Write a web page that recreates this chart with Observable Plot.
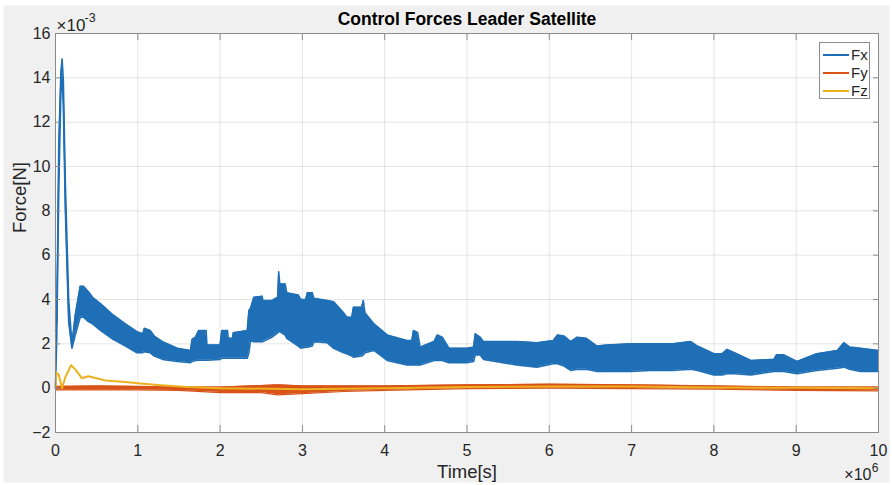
<!DOCTYPE html>
<html>
<head>
<meta charset="utf-8">
<script src="https://cdn.jsdelivr.net/npm/d3@7"></script>
<script src="https://cdn.jsdelivr.net/npm/@observablehq/plot@0.6"></script>
<style>
  body { margin: 0; background: #fff; font-family: "Liberation Sans", Arial, sans-serif; }
  #wrap { position: relative; width: 892px; height: 485px; }
  .legend { position: absolute; left: 819px; top: 42px; width: 49px; height: 55px;
            border: 1px solid #8c8c8c; background: #fff; font-size: 15px; color: #262626; }
  .legend .row { position: absolute; left: 0; height: 18px; width: 49px; }
  .legend .sw { position: absolute; left: 3px; top: 8px; width: 26px; height: 2px; }
  .legend .lb { position: absolute; left: 31px; top: 0px; line-height: 17px; }
</style>
</head>
<body>
<div id="wrap"></div>
<script>
// Time axis in units of 1e6 s, force in units of 1e-3 N (as the axis multipliers show)
const xTicks = [0, 1, 2, 3, 4, 5, 6, 7, 8, 9, 10];
const yTicks = [-2, 0, 2, 4, 6, 8, 10, 12, 14, 16];

const seriesNames = ["Fx", "Fy", "Fz"];
const seriesColors = ["#1f6fb6", "#d95319", "#edb120"];

// Fx: oscillation band (lower / upper envelope)
const fxTime = [0.000, 0.015, 0.040, 0.065, 0.080, 0.095, 0.120, 0.160, 0.200, 0.240,
  0.300, 0.340, 0.400, 0.450, 0.550, 0.700, 0.850, 0.990, 1.060, 1.080,
  1.150, 1.200, 1.300, 1.480, 1.640, 1.660, 1.700, 1.740, 1.830, 1.840,
  2.000, 2.020, 2.090, 2.100, 2.150, 2.160, 2.330, 2.350, 2.370, 2.410,
  2.510, 2.520, 2.630, 2.700, 2.712, 2.725, 2.790, 2.810, 2.950, 2.980,
  3.040, 3.060, 3.120, 3.140, 3.300, 3.380, 3.500, 3.540, 3.600, 3.620,
  3.720, 3.740, 3.760, 3.870, 4.030, 4.270, 4.330, 4.350, 4.400, 4.430,
  4.600, 4.640, 4.700, 4.780, 5.000, 5.080, 5.100, 5.160, 5.200, 5.600,
  5.850, 6.050, 6.100, 6.180, 6.260, 6.340, 6.450, 6.580, 6.700, 6.990,
  7.230, 7.500, 7.720, 7.800, 8.000, 8.100, 8.160, 8.250, 8.450, 8.730,
  8.760, 8.850, 9.010, 9.250, 9.500, 9.580, 9.650, 9.780, 10.000];
const fxLow = [0.0, 2.3, 9.0, 13.3, 14.0, 12.8, 8.0, 3.0, 1.8, 2.4,
  3.2, 3.2, 3.0, 2.9, 2.6, 2.2, 1.9, 1.6, 1.6, 1.65,
  1.6, 1.45, 1.3, 1.2, 1.15, 1.2, 1.25, 1.26, 1.26, 1.26,
  1.3, 1.35, 1.35, 1.35, 1.35, 1.35, 1.35, 1.6, 2.15, 2.1,
  2.1, 2.1, 2.3, 2.5, 2.55, 2.55, 2.4, 2.25, 1.9, 1.8,
  1.85, 1.85, 1.9, 2.1, 2.05, 1.8, 1.6, 1.55, 1.45, 1.4,
  1.45, 1.5, 1.6, 1.7, 1.25, 1.05, 1.05, 1.05, 1.05, 1.05,
  1.25, 1.25, 1.25, 1.15, 1.15, 1.2, 1.5, 1.5, 1.3, 1.05,
  0.95, 1.1, 1.1, 1.0, 0.8, 0.85, 0.85, 0.75, 0.75, 0.75,
  0.8, 0.8, 0.85, 0.8, 0.6, 0.6, 0.65, 0.65, 0.6, 0.75,
  0.75, 0.75, 0.65, 0.8, 0.9, 0.95, 0.85, 0.75, 0.75];
const fxHigh = [2.6, 2.9, 11.0, 14.2, 14.85, 13.9, 9.2, 4.0, 2.0, 3.3,
  4.6, 4.6, 4.35, 4.1, 3.8, 3.3, 2.9, 2.55, 2.45, 2.7,
  2.6, 2.35, 2.1, 1.8, 1.7, 2.2, 2.3, 2.6, 2.6, 1.95,
  1.95, 2.6, 2.6, 2.25, 2.25, 2.5, 2.6, 3.5, 3.6, 4.1,
  4.15, 3.95, 3.95, 4.1, 5.25, 4.7, 4.7, 4.3, 4.2, 4.0,
  4.0, 4.3, 4.3, 4.05, 3.95, 3.9, 3.4, 3.2, 3.2, 3.65,
  3.65, 3.95, 3.4, 2.9, 2.4, 2.15, 2.15, 2.6, 2.5, 1.85,
  2.1, 2.4, 2.3, 1.8, 1.8, 1.85, 2.45, 2.3, 2.1, 2.1,
  2.05, 2.15, 2.4, 2.35, 2.1, 2.3, 2.25, 1.9, 1.95, 2.0,
  2.0, 2.0, 2.1, 1.9, 1.55, 1.55, 1.75, 1.6, 1.25, 1.3,
  1.5, 1.5, 1.2, 1.55, 1.7, 2.05, 1.85, 1.8, 1.7];

// Fy: thin band around zero
const fyTime = [0, 0.5, 1.0, 1.5, 2.0, 2.5, 2.7, 3.0, 3.5, 4.0, 5.0, 6.0, 7.0, 8.0, 9.0, 10.0];
const fyLow  = [-0.08, -0.08, -0.08, -0.1, -0.2, -0.2, -0.3, -0.25, -0.15, -0.1, -0.02, 0.0, -0.02, -0.05, -0.1, -0.12];
const fyHigh = [0.08, 0.1, 0.08, 0.05, 0.05, 0.12, 0.15, 0.1, 0.1, 0.1, 0.15, 0.18, 0.15, 0.1, 0.05, 0.05];

// Fz: single trace
const fzTime  = [0, 0.01, 0.04, 0.08, 0.12, 0.19, 0.25, 0.32, 0.40, 0.50, 0.60, 0.85, 1.0, 1.28, 1.6, 2.0, 3.0, 4.0, 5.0, 6.0, 7.0, 8.0, 9.0, 10.0];
const fzValue = [0.05, 0.7, 0.6, 0.0, 0.5, 1.04, 0.8, 0.45, 0.54, 0.45, 0.35, 0.28, 0.22, 0.13, 0.05, 0.0, -0.05, 0.0, 0.05, 0.08, 0.07, 0.03, 0.02, 0.0];

const fx = fxTime.map((t, i) => ({t, lo: fxLow[i], hi: fxHigh[i]}));
const fy = fyTime.map((t, i) => ({t, lo: fyLow[i], hi: fyHigh[i]}));
const fz = fzTime.map((t, i) => ({t, v: fzValue[i]}));

const W = 892, H = 485;
const mL = 55, mR = 14, mT = 33, mB = 53;
const frameW = W - mL - mR, frameH = H - mT - mB;
const axisGray = "#8c8c8c", textCol = "#262626";

const chart = Plot.plot({
  width: W, height: H,
  marginLeft: mL, marginRight: mR, marginTop: mT, marginBottom: mB,
  style: {fontFamily: "'Liberation Sans', Arial, sans-serif", fontSize: "16px", color: textCol, background: "transparent"},
  x: {domain: [0, 10]},
  y: {domain: [-2, 16]},
  marks: [
    // figure panel and axes background
    Plot.frame({fill: "#f0f0f0", insetTop: -28, insetLeft: -52, insetRight: -11, insetBottom: -50}),
    Plot.frame({fill: "white"}),
    Plot.gridX(xTicks, {stroke: "#000", strokeOpacity: 0.1}),
    Plot.gridY(yTicks, {stroke: "#000", strokeOpacity: 0.1}),
    // Fx band
    Plot.areaY(fx, {x: "t", y1: "lo", y2: "hi", fill: seriesColors[0]}),
    Plot.line(fx, {x: "t", y: "hi", stroke: seriesColors[0], strokeWidth: 1.6}),
    Plot.line(fx, {x: "t", y: "lo", stroke: seriesColors[0], strokeWidth: 1.6}),
    // Fy band
    Plot.areaY(fy, {x: "t", y1: "lo", y2: "hi", fill: seriesColors[1]}),
    Plot.line(fy, {x: "t", y: "hi", stroke: seriesColors[1], strokeWidth: 1.2}),
    Plot.line(fy, {x: "t", y: "lo", stroke: seriesColors[1], strokeWidth: 1.2}),
    // Fz trace
    Plot.line(fz, {x: "t", y: "v", stroke: seriesColors[2], strokeWidth: 2}),
    // box and inward ticks
    Plot.frame({stroke: axisGray}),
    Plot.tickX(xTicks, {x: d => d, stroke: axisGray, insetTop: frameH - 7}),
    Plot.tickX(xTicks, {x: d => d, stroke: axisGray, insetBottom: frameH - 7}),
    Plot.tickY(yTicks, {y: d => d, stroke: axisGray, insetRight: frameW - 5}),
    Plot.tickY(yTicks, {y: d => d, stroke: axisGray, insetLeft: frameW - 5}),
    Plot.axisX(xTicks, {anchor: "bottom", tickSize: 0, tickPadding: 12, label: null, fill: textCol, fontSize: 16}),
    Plot.axisY(yTicks, {anchor: "left", tickSize: 0, tickPadding: 5, label: null, fill: textCol, fontSize: 16}),
    // axis titles
    Plot.text(["Time[s]"], {frameAnchor: "bottom", dy: 40, lineAnchor: "middle", fontSize: 18.5, fill: textCol}),
    Plot.text(["Force[N]"], {frameAnchor: "left", dx: -35, rotate: -90, lineAnchor: "middle", fontSize: 18.5, fill: textCol}),
    Plot.text(["Control Forces Leader Satellite"], {frameAnchor: "top", dy: -14, lineAnchor: "middle", fontSize: 17.5, fontWeight: "bold", fill: "#000"}),
    // axis multipliers
    Plot.text(["×10"], {frameAnchor: "top-left", textAnchor: "start", lineAnchor: "middle", dx: 1, dy: -8, fontSize: 17, fill: textCol}),
    Plot.text(["-3"], {frameAnchor: "top-left", textAnchor: "start", lineAnchor: "middle", dx: 29, dy: -16, fontSize: 12.5, fill: textCol}),
    Plot.text(["×10"], {frameAnchor: "bottom-right", textAnchor: "end", lineAnchor: "middle", dx: -7, dy: 42, fontSize: 16, fill: textCol}),
    Plot.text(["6"], {frameAnchor: "bottom-right", textAnchor: "end", lineAnchor: "middle", dx: 0, dy: 36, fontSize: 12, fill: textCol})
  ]
});

const wrap = document.getElementById("wrap");
wrap.appendChild(chart);

// line-swatch legend in the upper right corner of the axes
const legend = document.createElement("div");
legend.className = "legend";
seriesNames.forEach((name, i) => {
  const row = document.createElement("div");
  row.className = "row";
  row.style.top = (3 + i * 18) + "px";
  const sw = document.createElement("span");
  sw.className = "sw";
  sw.style.background = seriesColors[i];
  const lb = document.createElement("span");
  lb.className = "lb";
  lb.textContent = name;
  row.appendChild(sw);
  row.appendChild(lb);
  legend.appendChild(row);
});
wrap.appendChild(legend);
</script>
</body>
</html>
